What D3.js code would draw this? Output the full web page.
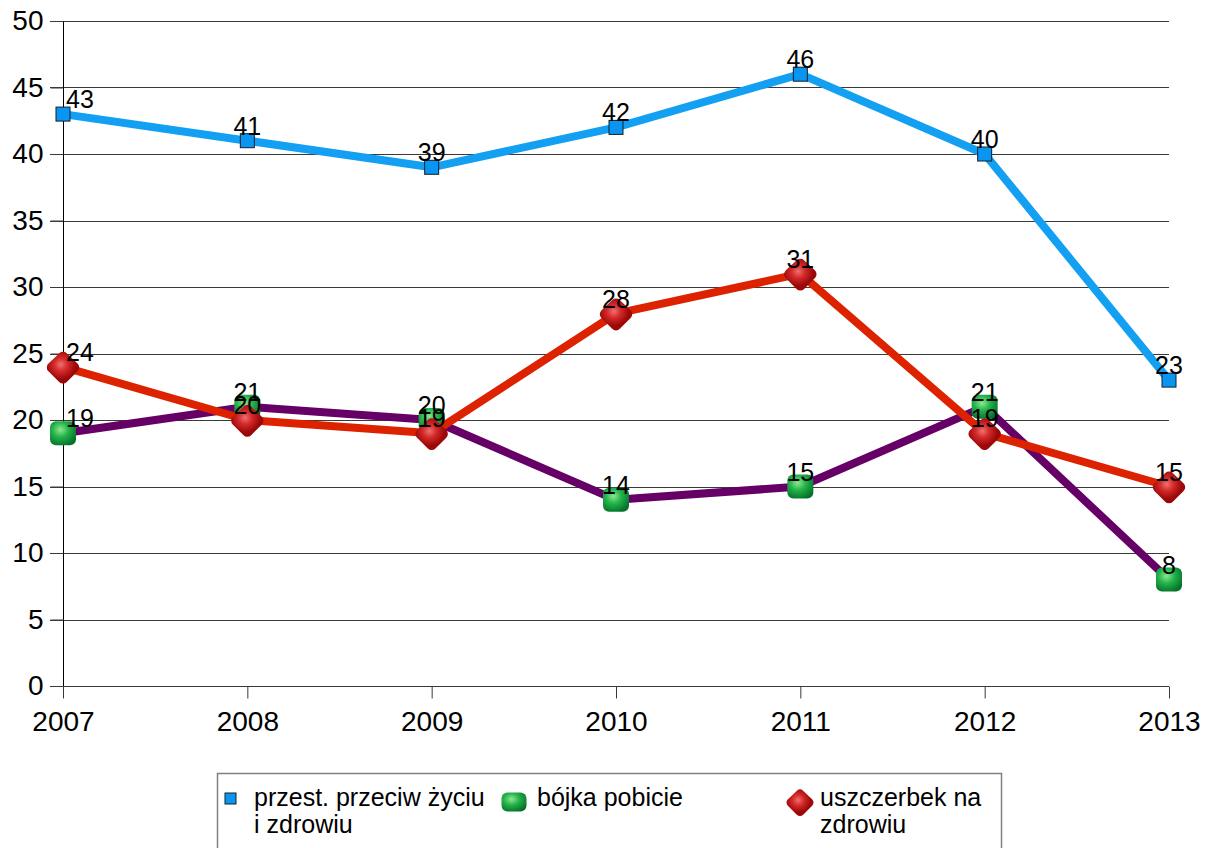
<!DOCTYPE html>
<html>
<head>
<meta charset="utf-8">
<script src="https://cdn.jsdelivr.net/npm/d3@7"></script>
<style>
  body { margin: 0; background: #fff; }
  svg text { font-family: "Liberation Sans", Arial, sans-serif; fill: #000; }
</style>
</head>
<body>
<div id="container"></div>
<script>
// Données
const years = [2007, 2008, 2009, 2010, 2011, 2012, 2013];
const yTicks = [0, 5, 10, 15, 20, 25, 30, 35, 40, 45, 50];
const przestepstwa = [43, 41, 39, 42, 46, 40, 23];
const bojka = [19, 21, 20, 14, 15, 21, 8];
const uszczerbek = [24, 20, 19, 28, 31, 19, 15];
const seriesNames = ["przest. przeciw życiu\ni zdrowiu", "bójka pobicie", "uszczerbek na\nzdrowiu"];

const main = (container) => {
  const W = 1210, H = 848;
  const svg = d3.select(container).append("svg")
    .attr("width", W).attr("height", H);

  // Dégradés pour les marqueurs 3D
  const defs = svg.append("defs");
  const gGreen = defs.append("radialGradient").attr("id", "gradGreen")
    .attr("cx", "40%").attr("cy", "35%").attr("r", "70%");
  gGreen.append("stop").attr("offset", "0%").attr("stop-color", "#8ee88e");
  gGreen.append("stop").attr("offset", "45%").attr("stop-color", "#22b24a");
  gGreen.append("stop").attr("offset", "100%").attr("stop-color", "#05702a");
  const gRed = defs.append("radialGradient").attr("id", "gradRed")
    .attr("cx", "40%").attr("cy", "35%").attr("r", "70%");
  gRed.append("stop").attr("offset", "0%").attr("stop-color", "#f07070");
  gRed.append("stop").attr("offset", "45%").attr("stop-color", "#d42a2a");
  gRed.append("stop").attr("offset", "100%").attr("stop-color", "#9a0808");

  // Échelles
  const x = d3.scalePoint().domain(years).range([63, 1169]);
  const y = d3.scaleLinear().domain([0, 50]).range([686, 21]);

  // Grille horizontale
  svg.append("g").selectAll("line")
    .data(yTicks.filter(d => d > 0))
    .join("line")
    .attr("x1", 50).attr("x2", 1169)
    .attr("y1", d => Math.round(y(d)) + 0.5).attr("y2", d => Math.round(y(d)) + 0.5)
    .attr("stroke", "#3a3a3a").attr("stroke-width", 1);

  // Axe Y
  const yAxis = svg.append("g")
    .attr("transform", "translate(63.5,0)")
    .call(d3.axisLeft(y).tickValues(yTicks).tickSize(13).tickPadding(7));
  yAxis.select(".domain").attr("stroke", "#000").attr("d", `M0,${y(50)}V${y(0)}`);
  yAxis.selectAll(".tick line").attr("stroke", "#3a3a3a");
  yAxis.selectAll(".tick text").style("font-size", "28px")
    .attr("font-family", "Liberation Sans, Arial, sans-serif");

  // Axe X
  const xAxis = svg.append("g")
    .attr("transform", `translate(0,${Math.round(y(0)) + 0.5})`)
    .call(d3.axisBottom(x).tickSize(12).tickPadding(13).tickFormat(d3.format("d")));
  xAxis.select(".domain").attr("stroke", "#3a3a3a").attr("d", "M50,0H1169");
  xAxis.selectAll(".tick line").attr("stroke", "#3a3a3a");
  xAxis.selectAll(".tick text").style("font-size", "28px")
    .attr("font-family", "Liberation Sans, Arial, sans-serif");

  const line = d3.line().x((d, i) => x(years[i])).y(d => y(d));

  // Marqueurs
  const squareMarker = (g, size) => g.append("rect")
    .attr("x", -size / 2).attr("y", -size / 2)
    .attr("width", size).attr("height", size)
    .attr("fill", "#0a96f0").attr("stroke", "#102030").attr("stroke-width", 1);
  const greenMarker = (g, w, h) => g.append("rect")
    .attr("x", -w / 2).attr("y", -h / 2)
    .attr("width", w).attr("height", h).attr("rx", 6)
    .attr("fill", "url(#gradGreen)");
  const redMarker = (g, s) => g.append("path")
    .attr("d", `M0,${-s * 0.32} L${s * 0.36},${s * 0.02} L0,${s * 0.38} L${-s * 0.36},${s * 0.02} Z`)
    .attr("stroke", "url(#gradRed)").attr("stroke-width", s * 0.36)
    .attr("stroke-linejoin", "round")
    .attr("fill", "url(#gradRed)");

  const labels = (vals) => svg.append("g").selectAll("text")
    .data(vals).join("text")
    .attr("x", (d, i) => i === 0 ? x(years[i]) + 3 : x(years[i]))
    .attr("y", d => y(d) - 6)
    .attr("text-anchor", (d, i) => i === 0 ? "start" : "middle")
    .style("font-size", "25px")
    .text(d => d);

  // Série 1: bleu
  svg.append("path").datum(przestepstwa)
    .attr("d", line).attr("fill", "none")
    .attr("stroke", "#14a0f2").attr("stroke-width", 8).attr("stroke-linejoin", "round");
  przestepstwa.forEach((v, i) => {
    squareMarker(svg.append("g").attr("transform", `translate(${x(years[i])},${y(v)})`), 14);
  });

  // Série 2: violet + vert
  svg.append("path").datum(bojka)
    .attr("d", line).attr("fill", "none")
    .attr("stroke", "#660066").attr("stroke-width", 8).attr("stroke-linejoin", "round");
  bojka.forEach((v, i) => {
    greenMarker(svg.append("g").attr("transform", `translate(${x(years[i])},${y(v)})`), 26, 24);
  });

  // Série 3: rouge
  svg.append("path").datum(uszczerbek)
    .attr("d", line).attr("fill", "none")
    .attr("stroke", "#dd2200").attr("stroke-width", 8).attr("stroke-linejoin", "round");
  uszczerbek.forEach((v, i) => {
    redMarker(svg.append("g").attr("transform", `translate(${x(years[i])},${y(v)})`), 30);
  });

  labels(przestepstwa);
  labels(bojka);
  labels(uszczerbek);

  // Légende
  const legend = svg.append("g");
  legend.append("rect")
    .attr("x", 217.5).attr("y", 773.5).attr("width", 784).attr("height", 100)
    .attr("fill", "none").attr("stroke", "#808080").attr("stroke-width", 1.5);

  const legendItems = [
    { name: seriesNames[0], mx: 230.5, tx: 254, draw: g => squareMarker(g, 11) },
    { name: seriesNames[1], mx: 514, tx: 537, draw: g => greenMarker(g, 25, 19) },
    { name: seriesNames[2], mx: 800, tx: 820, draw: g => redMarker(g, 25) }
  ];
  legendItems.forEach(it => {
    it.draw(legend.append("g").attr("transform", `translate(${it.mx},${it.name === seriesNames[0] ? 798.5 : 802})`));
    const t = legend.append("text").attr("x", it.tx).attr("y", 806).style("font-size", "25px");
    it.name.split("\n").forEach((s, k) => {
      t.append("tspan").attr("x", it.tx).attr("dy", k === 0 ? 0 : 27).text(s);
    });
  });
};

const container = document.getElementById("container");
main(container);
</script>
</body>
</html>
